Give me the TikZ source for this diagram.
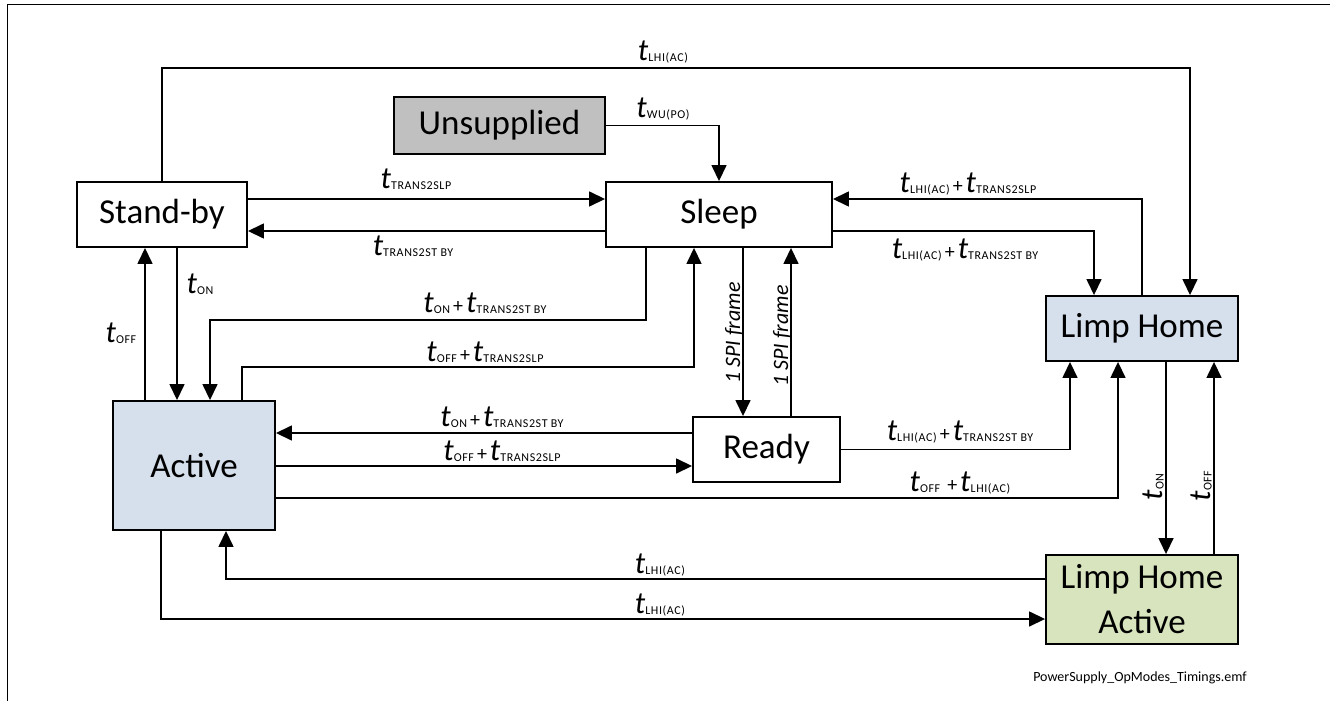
\documentclass[tikz,border=0pt]{standalone}
\usepackage{fontspec}
\setmainfont{Carlito}
\usepackage{xcolor}
\usetikzlibrary{arrows.meta}
\definecolor{unsupgray}{HTML}{C0C0C0}
\definecolor{modeblue}{HTML}{D6DFEC}
\definecolor{modegreen}{HTML}{D7E4BD}
\newcommand{\tv}[1]{{\fontsize{31}{31}\selectfont\itshape t}\raisebox{-1.5pt}{\fontsize{12}{12}\selectfont\addfontfeature{LetterSpace=5}#1}}
\newcommand{\pl}{\kern3pt{\fontsize{20}{20}\selectfont+}\kern3pt}

\begin{document}
\begin{tikzpicture}[
    x=1pt, y=-1pt,
    opmode/.style={rectangle, draw=black, line width=1.9pt, fill=white, font=\fontsize{35}{45}\selectfont, align=center, inner sep=0pt},
    lbl/.style={inner sep=0pt, anchor=base},
    spi/.style={inner sep=0pt, anchor=base, rotate=90, font=\fontsize{22}{22}\selectfont\itshape},
    trans/.style={-{Triangle[length=16pt, width=15pt]}, line width=1.5pt}
]
\useasboundingbox (0,0) rectangle (1330,701);
\draw[line width=1pt] (1330,5) -- (7,5) -- (7,701);

\node (sb) [opmode, minimum width=170pt, minimum height=65pt] at (162,214.5) {Stand-by};
\node (un) [opmode, fill=unsupgray, minimum width=211pt, minimum height=57pt] at (499.5,125.5) {Unsupplied};
\node (sl) [opmode, minimum width=226pt, minimum height=65pt] at (719,214.5) {Sleep};
\node (lh) [opmode, fill=modeblue, minimum width=192pt, minimum height=65pt] at (1142,328.5) {Limp Home};
\node (ac) [opmode, fill=modeblue, minimum width=162pt, minimum height=129pt] at (194,465.5) {Active};
\node (rd) [opmode, minimum width=147pt, minimum height=65pt] at (766.5,449.5) {Ready};
\node (lha) [opmode, fill=modegreen, minimum width=192pt, minimum height=89pt] at (1142,599.5) {Limp Home\\Active};

\draw[trans] (sb.north) -- ++(0,-113) -| ([xshift=48pt]lh.north);
\draw[trans] (un.east) -| (sl.north);
\draw[trans] (sb.east |- 0,199) -- (sl.west |- 0,199);
\draw[trans] (sl.west |- 0,231) -- (sb.east |- 0,231);
\draw[trans] (lh.north) |- (sl.east |- 0,199);
\draw[trans] (sl.east |- 0,231) -| ([xshift=-48pt]lh.north);
\draw[trans] ([xshift=-49pt]ac.north) -- ([xshift=-17pt]sb.south);
\draw[trans] ([xshift=15pt]sb.south) -- ([xshift=-17pt]ac.north);
\draw[trans] ([xshift=-73pt]sl.south) -- ++(0,72) -| ([xshift=16pt]ac.north);
\draw[trans] ([xshift=48pt]ac.north) -- ++(0,-33) -| ([xshift=-25pt]sl.south);
\draw[trans] ([xshift=24pt]sl.south) -- ([xshift=-23.5pt]rd.north);
\draw[trans] ([xshift=24.5pt]rd.north) -- ([xshift=72pt]sl.south);
\draw[trans] (rd.west |- 0,433) -- (ac.east |- 0,433);
\draw[trans] (ac.east |- 0,466) -- (rd.west |- 0,466);
\draw[trans] (rd.east) -| ([xshift=-72pt]lh.south);
\draw[trans] (ac.east |- 0,498) -| ([xshift=-24pt]lh.south);
\draw[trans] ([xshift=24pt]lh.south) -- ([xshift=24pt]lha.north);
\draw[trans] ([xshift=72pt]lha.north) -- ([xshift=72pt]lh.south);
\draw[trans] (lha.west |- 0,579) -| ([xshift=32pt]ac.south);
\draw[trans] ([xshift=-33pt]ac.south) |- (lha.west |- 0,619);

\node (lb1) [lbl] at (663,60) {\tv{LHI(AC)}};
\node (lb2) [lbl] at (663,117) {\tv{WU(PO)}};
\node (lb3) [lbl] at (416,188) {\tv{TRANS2SLP}};
\node (lb4) [lbl] at (413,255) {\tv{TRANS2ST BY}};
\node (lb5) [lbl] at (968,192) {\tv{LHI(AC)}\pl\tv{TRANS2SLP}};
\node (lb6) [lbl] at (965,258) {\tv{LHI(AC)}\pl\tv{TRANS2ST BY}};
\node (lb7) [lbl] at (121,342) {\tv{OFF}};
\node (lb8) [lbl] at (200,293) {\tv{ON}};
\node (lb9) [lbl] at (485,312) {\tv{ON}\pl\tv{TRANS2ST BY}};
\node (lb10) [lbl] at (485,361) {\tv{OFF}\pl\tv{TRANS2SLP}};
\node (lb11) [spi] at (740,333) {1 SPI frame};
\node (lb12) [spi] at (788,336) {1 SPI frame};
\node (lb13) [lbl] at (502,426) {\tv{ON}\pl\tv{TRANS2ST BY}};
\node (lb14) [lbl] at (502,460) {\tv{OFF}\pl\tv{TRANS2SLP}};
\node (lb15) [lbl] at (960,440) {\tv{LHI(AC)}\pl\tv{TRANS2ST BY}};
\node (lb16) [lbl] at (960,491) {\tv{OFF}\kern4pt\pl\tv{LHI(AC)}};
\node (lb17) [lbl, rotate=90] at (1162,487) {\tv{ON}};
\node (lb18) [lbl, rotate=90] at (1210,486) {\tv{OFF}};
\node (lb19) [lbl] at (660,573) {\tv{LHI(AC)}};
\node (lb20) [lbl] at (660,613) {\tv{LHI(AC)}};
\node (ftr) [lbl, font=\fontsize{14}{14}\selectfont] at (1140,681) {PowerSupply\_OpModes\_Timings.emf};
\end{tikzpicture}
\end{document}
